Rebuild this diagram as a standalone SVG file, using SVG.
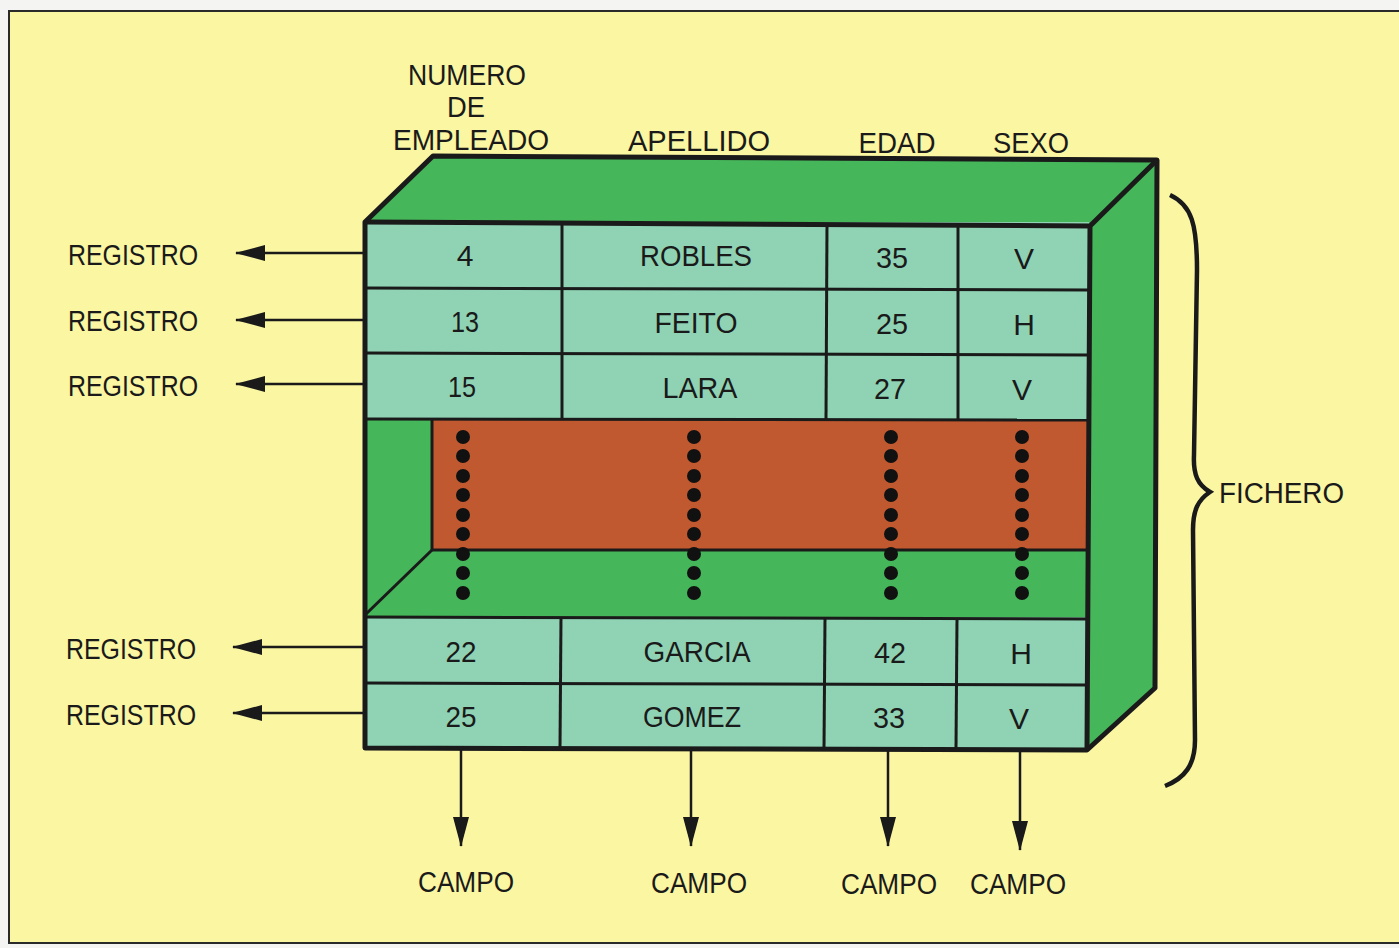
<svg xmlns="http://www.w3.org/2000/svg" width="1399" height="948" viewBox="0 0 1399 948">
<style>
.t{font-family:"Liberation Sans","DejaVu Sans",sans-serif;font-size:30px;fill:#1a1a1a;text-anchor:middle}
.l{font-family:"Liberation Sans","DejaVu Sans",sans-serif;font-size:30px;fill:#1a1a1a}
.cell{fill:#8fd3b4}
.grn{fill:#45b659}
.ln{stroke:#1a1a1a;stroke-width:3;fill:none}
.bold{stroke:#1a1a1a;stroke-width:5;fill:none;stroke-linejoin:round}
.arr{stroke:#1a1a1a;stroke-width:2.5;fill:none}
</style>
<defs>
<marker id="ah2" viewBox="0 0 30 16" refX="29" refY="8" markerWidth="30" markerHeight="16" markerUnits="userSpaceOnUse" orient="auto">
<path d="M0,0 L30,8 L0,16 Z" fill="#1a1a1a"/>
</marker>
</defs>
<rect x="0" y="0" width="1399" height="948" fill="#f4f4f2"/>
<rect x="9" y="11" width="1392" height="932" fill="#faf6a2" stroke="#2a2a2a" stroke-width="2"/>

<g id="headers">
<text class="t" x="467" y="85" textLength="118" lengthAdjust="spacingAndGlyphs">NUMERO</text>
<text class="t" x="466" y="117" textLength="38" lengthAdjust="spacingAndGlyphs">DE</text>
<text class="t" x="471" y="150" textLength="156" lengthAdjust="spacingAndGlyphs">EMPLEADO</text>
<text class="t" x="699" y="151" textLength="142" lengthAdjust="spacingAndGlyphs">APELLIDO</text>
<text class="t" x="897" y="153" textLength="77" lengthAdjust="spacingAndGlyphs">EDAD</text>
<text class="t" x="1031" y="153" textLength="76" lengthAdjust="spacingAndGlyphs">SEXO</text>
</g>

<g id="fichero-box">
<polygon class="grn" points="365,222 433,156 1157,160 1090,226"/>
<polygon class="grn" points="1090,226 1157,160 1155,688 1087,750"/>
<rect class="cell" x="365" y="222" width="724" height="197"/>
<rect class="cell" x="365" y="617" width="724" height="131"/>
<rect class="grn" x="365" y="419" width="724" height="198"/>
<rect x="432" y="419" width="656" height="131" fill="#c0592f"/>
<polyline class="ln" points="432,419 432,550 1088,550"/>
<line class="ln" x1="432" y1="550" x2="366" y2="614"/>
<line class="ln" x1="365" y1="288" x2="1089" y2="290"/>
<line class="ln" x1="365" y1="353" x2="1089" y2="355"/>
<line class="ln" x1="365" y1="419" x2="1089" y2="420"/>
<line class="ln" x1="365" y1="617" x2="1089" y2="619"/>
<line class="ln" x1="365" y1="683" x2="1089" y2="685"/>
<line class="ln" x1="562" y1="222" x2="562" y2="419"/>
<line class="ln" x1="827" y1="224" x2="826" y2="419"/>
<line class="ln" x1="958" y1="225" x2="958" y2="420"/>
<line class="ln" x1="561" y1="617" x2="560" y2="748"/>
<line class="ln" x1="825" y1="618" x2="824" y2="748"/>
<line class="ln" x1="957" y1="619" x2="956" y2="748"/>
<path class="bold" d="M365,748 L365,222 L433,156 L1157,160 L1155,688 L1087,750 Z"/>
<path class="bold" d="M365,222 L1090,226 L1157,160 M1090,226 L1087,750"/>
</g>

<g id="dots" fill="#111">
<g id="dc1">
<circle cx="463" cy="437" r="7"/><circle cx="463" cy="456" r="7"/><circle cx="463" cy="476" r="7"/><circle cx="463" cy="495" r="7"/><circle cx="463" cy="515" r="7"/><circle cx="463" cy="534" r="7"/><circle cx="463" cy="554" r="7"/><circle cx="463" cy="573" r="7"/><circle cx="463" cy="593" r="7"/>
</g>
<use href="#dc1" x="231"/>
<use href="#dc1" x="428"/>
<use href="#dc1" x="559"/>
</g>

<g id="cells">
<text class="t" x="465" y="266">4</text>
<text class="t" x="696" y="266" textLength="112" lengthAdjust="spacingAndGlyphs">ROBLES</text>
<text class="t" x="892" y="268" textLength="32" lengthAdjust="spacingAndGlyphs">35</text>
<text class="t" x="1024" y="269">V</text>
<text class="t" x="465" y="332" textLength="28" lengthAdjust="spacingAndGlyphs">13</text>
<text class="t" x="696" y="333" textLength="83" lengthAdjust="spacingAndGlyphs">FEITO</text>
<text class="t" x="892" y="334" textLength="32" lengthAdjust="spacingAndGlyphs">25</text>
<text class="t" x="1024" y="335">H</text>
<text class="t" x="462" y="397" textLength="28" lengthAdjust="spacingAndGlyphs">15</text>
<text class="t" x="700" y="398" textLength="75" lengthAdjust="spacingAndGlyphs">LARA</text>
<text class="t" x="890" y="399" textLength="32" lengthAdjust="spacingAndGlyphs">27</text>
<text class="t" x="1022" y="400">V</text>
<text class="t" x="461" y="662" textLength="31" lengthAdjust="spacingAndGlyphs">22</text>
<text class="t" x="697" y="662" textLength="107" lengthAdjust="spacingAndGlyphs">GARCIA</text>
<text class="t" x="890" y="663" textLength="32" lengthAdjust="spacingAndGlyphs">42</text>
<text class="t" x="1021" y="664">H</text>
<text class="t" x="461" y="727" textLength="31" lengthAdjust="spacingAndGlyphs">25</text>
<text class="t" x="692" y="727" textLength="98" lengthAdjust="spacingAndGlyphs">GOMEZ</text>
<text class="t" x="889" y="728" textLength="32" lengthAdjust="spacingAndGlyphs">33</text>
<text class="t" x="1019" y="729">V</text>
</g>

<g id="registro-labels">
<text class="l" x="68" y="265" textLength="130" lengthAdjust="spacingAndGlyphs">REGISTRO</text>
<text class="l" x="68" y="331" textLength="130" lengthAdjust="spacingAndGlyphs">REGISTRO</text>
<text class="l" x="68" y="396" textLength="130" lengthAdjust="spacingAndGlyphs">REGISTRO</text>
<text class="l" x="66" y="659" textLength="130" lengthAdjust="spacingAndGlyphs">REGISTRO</text>
<text class="l" x="66" y="725" textLength="130" lengthAdjust="spacingAndGlyphs">REGISTRO</text>
</g>

<g id="campo-labels">
<text class="t" x="466" y="892" textLength="96" lengthAdjust="spacingAndGlyphs">CAMPO</text>
<text class="t" x="699" y="893" textLength="96" lengthAdjust="spacingAndGlyphs">CAMPO</text>
<text class="t" x="889" y="894" textLength="96" lengthAdjust="spacingAndGlyphs">CAMPO</text>
<text class="t" x="1018" y="894" textLength="96" lengthAdjust="spacingAndGlyphs">CAMPO</text>
</g>

<g id="fichero-label">
<text class="l" x="1219" y="503" textLength="125" lengthAdjust="spacingAndGlyphs">FICHERO</text>
<path d="M1170,195 C1192,205 1197,225 1197,270 L1194,455 C1193,475 1198,485 1210,492 C1198,500 1193,510 1193,530 L1195,740 C1195,765 1185,778 1165,786" fill="none" stroke="#1a1a1a" stroke-width="4.5"/>
</g>

<g id="connectors">
<line class="arr" x1="365" y1="253" x2="236" y2="253" marker-end="url(#ah2)"/>
<line class="arr" x1="365" y1="320" x2="236" y2="320" marker-end="url(#ah2)"/>
<line class="arr" x1="365" y1="384" x2="236" y2="384" marker-end="url(#ah2)"/>
<line class="arr" x1="365" y1="647" x2="233" y2="647" marker-end="url(#ah2)"/>
<line class="arr" x1="365" y1="713" x2="233" y2="713" marker-end="url(#ah2)"/>
<line class="arr" x1="461" y1="748" x2="461" y2="846" marker-end="url(#ah2)"/>
<line class="arr" x1="691" y1="748" x2="691" y2="846" marker-end="url(#ah2)"/>
<line class="arr" x1="888" y1="748" x2="888" y2="846" marker-end="url(#ah2)"/>
<line class="arr" x1="1020" y1="750" x2="1020" y2="850" marker-end="url(#ah2)"/>
</g>
</svg>
